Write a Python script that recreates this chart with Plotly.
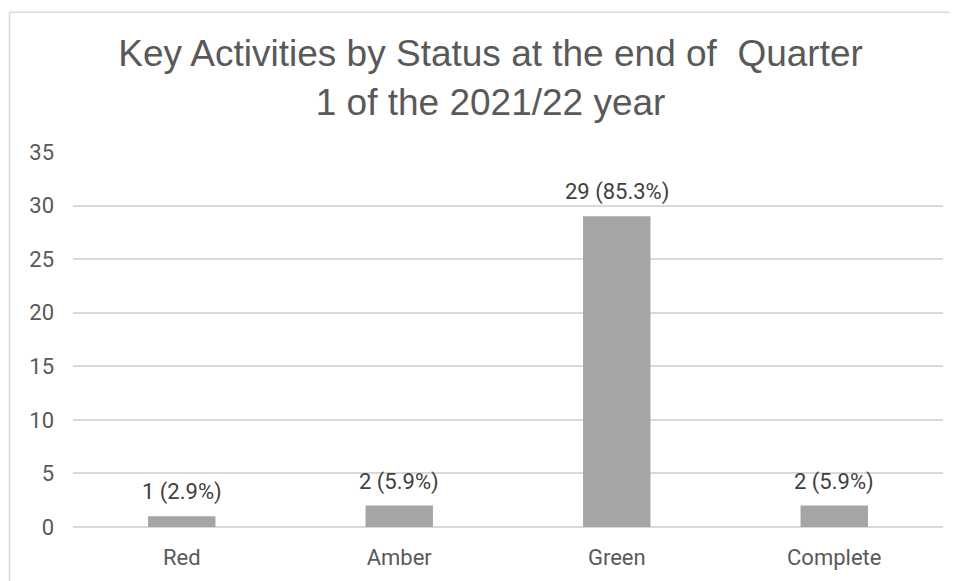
import plotly.graph_objects as go

categories = ["Red", "Amber", "Green", "Complete"]
counts = [1, 2, 29, 2]
y_ticks = [0, 5, 10, 15, 20, 25, 30, 35]
title_text = "Key Activities by Status at the end of  Quarter<br>1 of the 2021/22 year"

total = sum(counts)
labels = [f"{c} ({c / total * 100:.1f}%)" for c in counts]

FONT = "Roboto, Lato, sans-serif"

fig = go.Figure(
    go.Bar(
        x=categories,
        y=counts,
        marker=dict(color="#A5A5A5", line=dict(width=0)),
        width=0.31,
        hoverinfo="x+y",
    )
)

for cat, val, lab in zip(categories, counts, labels):
    fig.add_annotation(
        x=cat,
        y=val,
        text=lab,
        showarrow=False,
        yanchor="bottom",
        yshift=9,
        font=dict(family=FONT, size=22, color="#404040"),
    )

fig.update_layout(
    width=950,
    height=573,
    margin=dict(l=65, r=15, t=144, b=54),
    paper_bgcolor="white",
    plot_bgcolor="white",
    showlegend=False,
    title=dict(
        text=title_text,
        x=0.508,
        xref="container",
        xanchor="center",
        y=0.898,
        yref="container",
        yanchor="top",
        font=dict(family="Liberation Sans, Arial, sans-serif", size=37, color="#595959"),
    ),
    xaxis=dict(
        showgrid=False,
        showline=False,
        ticks="",
        ticklabelstandoff=15,
        tickfont=dict(family=FONT, size=22, color="#595959"),
    ),
    yaxis=dict(
        range=[0, 35],
        tickvals=y_ticks,
        showgrid=True,
        gridcolor="#D9D9D9",
        gridwidth=1.5,
        zeroline=True,
        zerolinecolor="#D9D9D9",
        zerolinewidth=1.5,
        showline=False,
        ticks="",
        ticklabelstandoff=18,
        tickfont=dict(family=FONT, size=22, color="#595959"),
    ),
    shapes=[
        dict(
            type="rect",
            xref="paper",
            yref="paper",
            x0=-0.073,
            x1=1.2,
            y0=-0.3,
            y1=1.373,
            line=dict(color="#D9D9D9", width=1.5),
            fillcolor="rgba(0,0,0,0)",
            layer="below",
        )
    ],
)

fig.write_html("out.html")
